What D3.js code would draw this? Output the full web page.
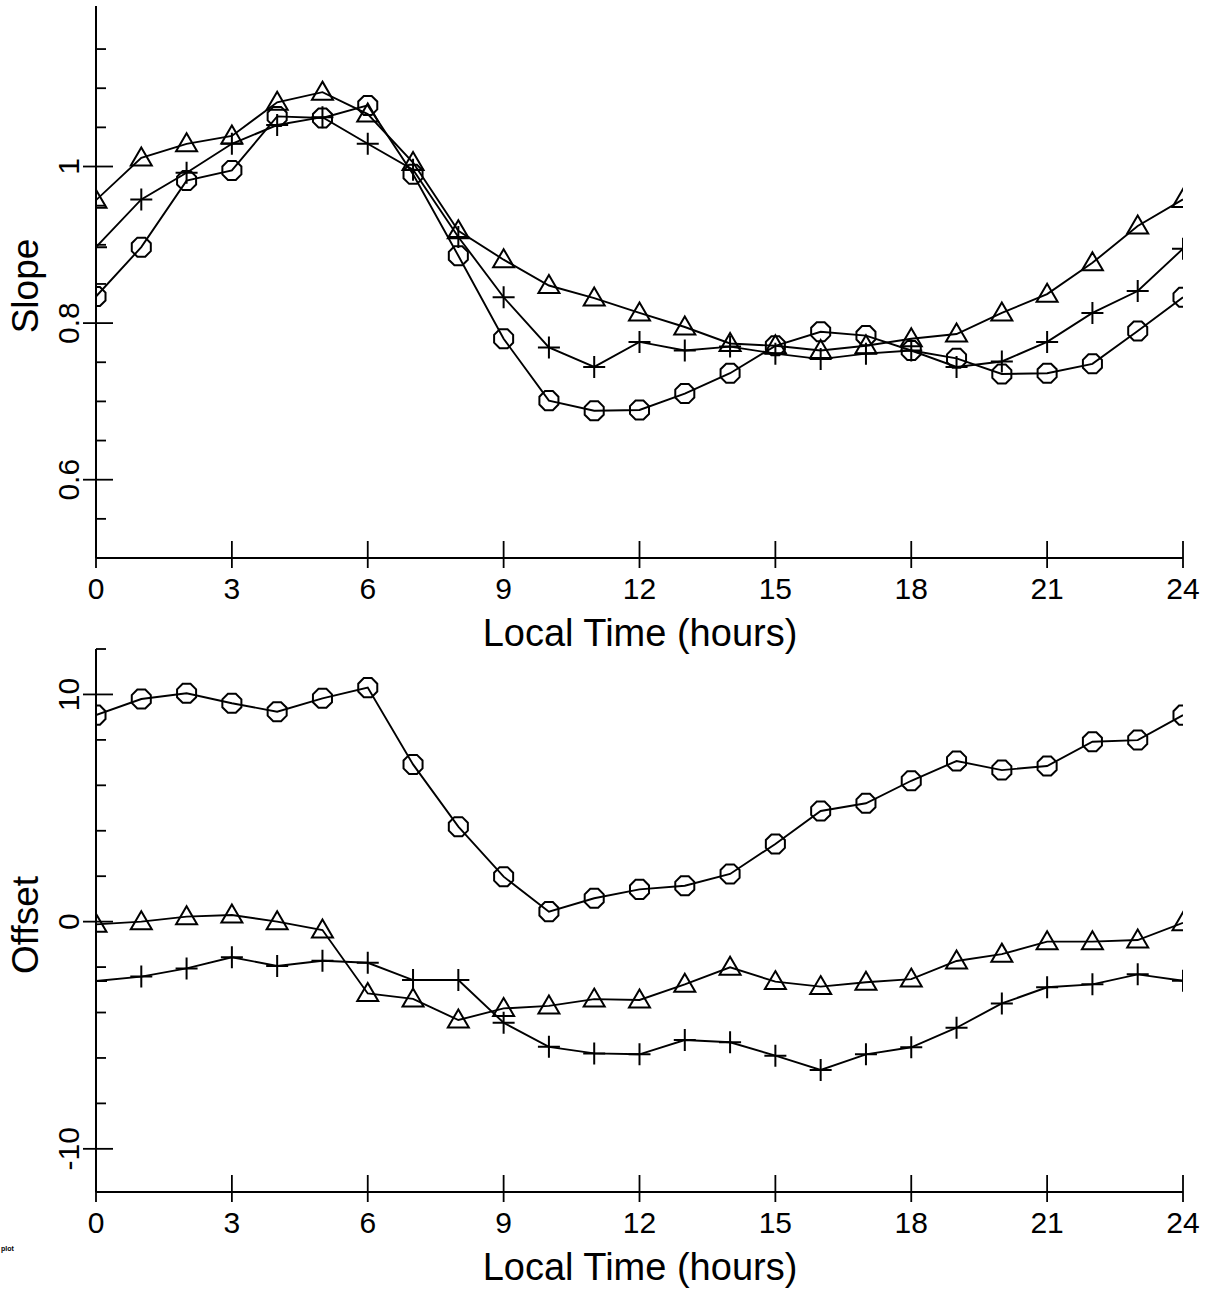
<!DOCTYPE html>
<html><head><meta charset="utf-8">
<script src="https://cdn.jsdelivr.net/npm/d3@7"></script>
<style>html,body{margin:0;padding:0;background:#fff}svg{display:block}text{font-family:"Liberation Sans",Arial,Helvetica,sans-serif;fill:#000}</style>
</head><body>
<script>
const hours = d3.range(0, 25);
const xTicks = [0, 3, 6, 9, 12, 15, 18, 21, 24];

// Slope panel
const slopeTriangle = [0.957,1.011,1.029,1.039,1.082,1.095,1.067,1.005,0.918,0.881,0.848,0.832,0.813,0.795,0.774,0.771,0.765,0.771,0.780,0.786,0.813,0.837,0.877,0.924,0.958];
const slopePlus     = [0.897,0.958,0.992,1.029,1.053,1.063,1.029,0.996,0.910,0.833,0.769,0.744,0.776,0.765,0.770,0.761,0.754,0.761,0.765,0.744,0.751,0.776,0.813,0.841,0.895];
const slopeCircle   = [0.834,0.897,0.982,0.995,1.064,1.062,1.078,0.990,0.886,0.780,0.701,0.688,0.689,0.710,0.736,0.771,0.789,0.784,0.765,0.755,0.735,0.736,0.748,0.790,0.833];
const slopeMajor = [0.6, 0.8, 1];
const slopeMajorLabels = ["0.6", "0.8", "1"];
const slopeMinor = [0.55,0.65,0.7,0.75,0.85,0.9,0.95,1.05,1.1,1.15];

// Offset panel
const offsetCircle   = [9.09,9.80,10.05,9.61,9.24,9.83,10.30,6.92,4.18,1.98,0.44,1.03,1.42,1.58,2.10,3.42,4.87,5.21,6.20,7.07,6.67,6.85,7.92,7.99,9.09];
const offsetTriangle = [-0.12,0.0,0.22,0.29,0.0,-0.37,-3.16,-3.40,-4.33,-3.82,-3.71,-3.41,-3.45,-2.76,-2.01,-2.64,-2.86,-2.67,-2.53,-1.73,-1.43,-0.88,-0.88,-0.81,-0.05];
const offsetPlus     = [-2.61,-2.42,-2.06,-1.57,-1.95,-1.72,-1.81,-2.57,-2.57,-4.45,-5.51,-5.80,-5.84,-5.21,-5.31,-5.90,-6.53,-5.84,-5.53,-4.67,-3.60,-2.89,-2.76,-2.32,-2.60];
const offsetMajor = [-10, 0, 10];
const offsetMajorLabels = ["-10", "0", "10"];
const offsetMinor = [-8,-6,-4,-2,2,4,6,8,12];

const W = 1209, H = 1289;
const svg = d3.select("body").append("svg").attr("width", W).attr("height", H);

const x = d3.scaleLinear().domain([0, 24]).range([96, 1183]);

function octagon(r) {
  const pts = d3.range(8).map(i => {
    const a = Math.PI / 8 + i * Math.PI / 4;
    return [r * Math.cos(a), r * Math.sin(a)];
  });
  return "M" + pts.map(p => p.join(",")).join("L") + "Z";
}
const markerPaths = {
  circle: octagon(10.3),
  triangle: "M0,-10.5L10.5,7.5L-10.5,7.5Z",
  plus: "M-11,0L11,0M0,-11L0,11"
};

function panel(id, y, yMajor, yMajorLabels, yMinor, series, yTitle, titleY) {
  const g = svg.append("g");
  const [y0, y1] = y.range(); // bottom, top
  const x0 = x.range()[0], x1 = x.range()[1];

  g.append("clipPath").attr("id", "clip" + id)
    .append("rect").attr("x", x0).attr("y", y1 - 20).attr("width", x1 - x0).attr("height", y0 - y1 + 40);

  g.append("line").attr("x1", x0).attr("x2", x0).attr("y1", y1).attr("y2", y0)
    .attr("stroke", "#000").attr("stroke-width", 2);
  g.append("line").attr("x1", x0).attr("x2", x1).attr("y1", y0).attr("y2", y0)
    .attr("stroke", "#000").attr("stroke-width", 2);

  g.selectAll(".xt").data(xTicks).enter().append("line")
    .attr("x1", d => x(d)).attr("x2", d => x(d))
    .attr("y1", y0 - 17).attr("y2", y0 + 10)
    .attr("stroke", "#000").attr("stroke-width", 1.8);
  g.selectAll(".xl").data(xTicks).enter().append("text")
    .attr("x", d => x(d)).attr("y", y0 + 41)
    .attr("text-anchor", "middle").attr("font-size", 30)
    .text(d => d);
  g.append("text").attr("x", 640).attr("y", y0 + 88)
    .attr("text-anchor", "middle").attr("font-size", 38)
    .text("Local Time (hours)");

  g.selectAll(".ymaj").data(yMajor).enter().append("line")
    .attr("x1", x0 - 13).attr("x2", x0 + 17)
    .attr("y1", d => y(d)).attr("y2", d => y(d))
    .attr("stroke", "#000").attr("stroke-width", 1.8);
  g.selectAll(".ymin").data(yMinor).enter().append("line")
    .attr("x1", x0).attr("x2", x0 + 10)
    .attr("y1", d => y(d)).attr("y2", d => y(d))
    .attr("stroke", "#000").attr("stroke-width", 1.8);
  g.selectAll(".yl").data(yMajor).enter().append("text")
    .attr("transform", d => `translate(79,${y(d)}) rotate(-90)`)
    .attr("text-anchor", "middle").attr("font-size", 30)
    .text((d, i) => yMajorLabels[i]);
  g.append("text")
    .attr("transform", `translate(38,${titleY}) rotate(-90)`)
    .attr("text-anchor", "middle").attr("font-size", 37)
    .text(yTitle);

  const line = d3.line().x((d, i) => x(hours[i])).y(d => y(d));
  const plot = g.append("g").attr("clip-path", `url(#clip${id})`);
  series.forEach(s => {
    plot.append("path").attr("d", line(s.values))
      .attr("fill", "none").attr("stroke", "#000").attr("stroke-width", 1.9);
    plot.selectAll(null).data(s.values).enter().append("path")
      .attr("transform", (d, i) => `translate(${x(hours[i])},${y(d)})`)
      .attr("d", markerPaths[s.marker])
      .attr("fill", "none").attr("stroke", "#000").attr("stroke-width", 2);
  });
}

const ySlope = d3.scaleLinear().domain([0.5, 1.205]).range([558, 6]);
panel("a", ySlope, slopeMajor, slopeMajorLabels, slopeMinor, [
  {values: slopeTriangle, marker: "triangle"},
  {values: slopePlus, marker: "plus"},
  {values: slopeCircle, marker: "circle"}
], "Slope", 286);

const yOffset = d3.scaleLinear().domain([-11.9, 12]).range([1192, 649]);
panel("b", yOffset, offsetMajor, offsetMajorLabels, offsetMinor, [
  {values: offsetCircle, marker: "circle"},
  {values: offsetTriangle, marker: "triangle"},
  {values: offsetPlus, marker: "plus"}
], "Offset", 925);

svg.append("text").attr("x", 1).attr("y", 1251).attr("text-anchor", "start")
  .attr("font-size", 7).attr("font-weight", "bold").text("plot");
</script>
</body></html>
